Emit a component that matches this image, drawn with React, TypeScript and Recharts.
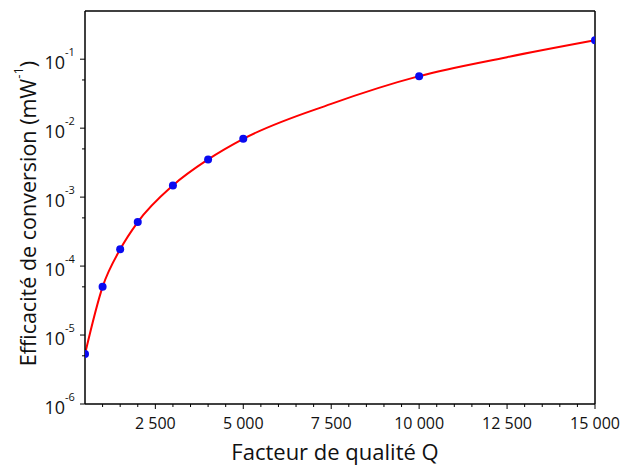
import { ComposedChart, Line, Scatter, XAxis, YAxis, ReferenceLine, Label } from 'recharts'

document.body.style.margin = '0'

const FONT = '"Open Sans", "DejaVu Sans", sans-serif'

// mesures (facteur de qualité Q, efficacité en mW^-1)
const qValues = [500, 1000, 1500, 2000, 3000, 4000, 5000, 10000, 15000]
const effValues = [5.3e-6, 5.0e-5, 1.75e-4, 4.35e-4, 1.48e-3, 3.52e-3, 7.0e-3, 0.0568, 0.188]

// courbe d'ajustement
const fitQ = [500, 1000, 1500, 2000, 3000, 4000, 5000, 7500, 10000, 12500, 15000]
const fitEff = [5.3e-6, 5.0e-5, 1.75e-4, 4.35e-4, 1.48e-3, 3.52e-3, 7.0e-3, 0.0225, 0.0568, 0.107, 0.188]

const xTicks = Array.from({ length: 29 }, (_, i) => 1000 + i * 500).filter((v) => v <= 15000)
const xLabelled = [2500, 5000, 7500, 10000, 12500, 15000]
const yMajor = [1e-6, 1e-5, 1e-4, 1e-3, 1e-2, 1e-1]
const yMinor = [5e-6, 5e-5, 5e-4, 5e-3, 5e-2]

const points = qValues.map((q, i) => ({ q, eff: effValues[i] }))
const fit = fitQ.map((q, i) => ({ q, eff: fitEff[i] }))

const formatQ = (v: number) => `${Math.floor(v / 1000)} ${String(v % 1000).padStart(3, '0')}`

function XTick(props: any) {
  const { x, y, payload } = props
  const major = xLabelled.includes(payload.value)
  return (
    <g>
      <line x1={x} x2={x} y1={y} y2={y + (major ? 5 : 3)} stroke="#000" strokeWidth={1} />
      {major && (
        <text x={x} y={y + 25} textAnchor="middle" fontSize={16} fontFamily={FONT} fill="#111">
          {formatQ(payload.value)}
        </text>
      )}
    </g>
  )
}

function YTick(props: any) {
  const { x, y, payload } = props
  const exp = Math.round(Math.log10(payload.value))
  const major = yMajor.some((m) => Math.abs(m - payload.value) / m < 1e-6)
  return (
    <g>
      <line x1={x - (major ? 5 : 3)} x2={x} y1={y} y2={y} stroke="#000" strokeWidth={1} />
      {major && (
        <text x={x - 20} y={y + 10} textAnchor="end" fontSize={18} fontFamily={FONT} fill="#111">
          10
        </text>
      )}
      {major && (
        <text x={x - 20} y={y - 3} textAnchor="start" fontSize={11} fontFamily={FONT} fill="#111">
          {exp}
        </text>
      )}
    </g>
  )
}

export default function App() {
  return (
    <div style={{ width: 620, height: 467, background: '#fff' }}>
      <ComposedChart width={620} height={467} margin={{ top: 11, right: 25, bottom: 23, left: 25 }}>
        <XAxis
          dataKey="q"
          type="number"
          domain={[500, 15000]}
          ticks={xTicks}
          allowDataOverflow
          height={40}
          tickLine={false}
          tickSize={0}
          tickMargin={0}
          axisLine={{ stroke: '#000', strokeWidth: 1.5 }}
          tick={<XTick />}
          interval={0}
        >
          <Label
            content={(p: any) => {
              const vb = p.viewBox
              return (
                <text x={vb.x + vb.width / 2 - 5} y={vb.y + 56} textAnchor="middle" fontSize={22} fontFamily={FONT} fill="#111">
                  Facteur de qualité Q
                </text>
              )
            }}
          />
        </XAxis>
        <YAxis
          dataKey="eff"
          type="number"
          scale="log"
          domain={[1e-6, 0.5]}
          ticks={[...yMajor, ...yMinor].sort((a, b) => a - b)}
          allowDataOverflow
          width={60}
          tickLine={false}
          tickSize={0}
          tickMargin={0}
          axisLine={{ stroke: '#000', strokeWidth: 1.5 }}
          tick={<YTick />}
          interval={0}
        >
          <Label
            content={(p: any) => {
              const vb = p.viewBox
              const cx = 27
              const cy = vb.y + vb.height / 2 + 6
              return (
                <text transform={`translate(${cx},${cy}) rotate(-90)`} textAnchor="middle" fontSize={21.5} fontFamily={FONT} fill="#111" dominantBaseline="central">
                  Efficacité de conversion (mW
                  <tspan fontSize={13} dy={-9}>-1</tspan>
                  <tspan dy={9}>)</tspan>
                </text>
              )
            }}
          />
        </YAxis>
        <ReferenceLine y={0.5} stroke="#000" strokeWidth={1.5} ifOverflow="extendDomain" />
        <ReferenceLine x={15000} stroke="#000" strokeWidth={1.5} />
        <Scatter data={points} dataKey="eff" fill="#0000ff" isAnimationActive={false} shape={(p: any) => <circle cx={p.cx} cy={p.cy} r={4} fill="#0a0af0" />} />
        <Line data={fit} dataKey="eff" type="monotone" stroke="#ff0000" strokeWidth={2} dot={false} activeDot={false} isAnimationActive={false} />
      </ComposedChart>
    </div>
  )
}
